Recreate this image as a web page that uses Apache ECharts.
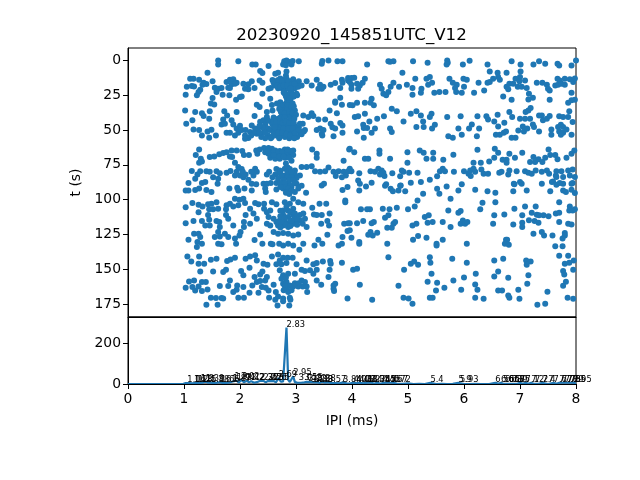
<!DOCTYPE html>
<html>
<head>
<meta charset="utf-8">
<script src="https://cdn.jsdelivr.net/npm/echarts@6/dist/echarts.min.js"></script>
<style>html,body{margin:0;padding:0;background:#fff}#chart{width:640px;height:480px}</style>
</head>
<body>
<div id="chart"></div>
<script>
const rasterLeftTop = [[1.61,0],[1.61,3],[1.97,.7],[2.22,3],[2.28,3],[2.51,4],[2.79,.7],[2.83,0],[2.77,3],[2.86,1],[2.82,3.5],[2.94,.5],[2.92,3],[3.05,.7],[3.47,.5],[3.46,2.4],[3.58,0],[3.74,.7],[3.83,.7],
[1.42,8.9],[2.36,7.7],[2.40,9],[2.63,9.6],[2.68,8.9],[2.83,7.9],[2.82,10.8],
[1.03,24.7],[1.05,19],[1.14,18.4],[1.18,18.7],[1.11,13.2],[1.17,13.2],[1.27,13.9],[1.35,16],[1.40,17],[1.51,15],[1.33,17.5],[1.29,21],[1.26,22.7],[1.23,25],
[1.55,19.6],[1.61,20.4],[1.67,19.9],[1.58,22.7],[1.69,24.7],[1.81,25],[1.76,15.6],[1.82,13.9],[1.88,13.6],[1.94,16],[1.85,17.2],[1.91,16.8],[1.79,19.6],[1.82,19.9],
[2.06,16.8],[2.15,17.2],[2.21,15],[2.35,14.4],[2.40,16],[2.09,20.4],[2.15,20.8],[2.26,19.9],[2.03,25.9],[2.0,26.3],[1.93,28.3],[2.40,24],[2.51,20.4],[2.55,19.9],[2.54,27.5],[2.6,16],
[2.58,14],[2.65,15],[2.72,13],[2.78,14],[2.83,13],[2.9,15],[2.95,13.5],[3.0,16],[2.62,18],[2.7,17],[2.76,16.5],[2.82,17],[2.88,18],[2.94,18],[2.68,20],[2.75,20],[2.8,21],[2.86,20],[2.92,21],[2.98,20],[2.8,24],[2.86,25],[2.92,23],[2.84,28],[2.9,28],[2.96,26],[3.02,25],[3.05,15],
[3.19,15],[3.28,18],[3.37,13.9],[3.43,17.5],[3.49,19],[3.46,20.4],[3.40,20.4],[3.62,17.5],[3.70,16.3],[3.82,13.9],[3.83,16],[3.79,19.9],[3.93,12.7],[3.93,14.4],[3.79,26.8],[3.70,29.5],[3.82,31.8],[3.04,19],[3.1,18],[3.01,24],[2.95,26],
[1.51,27],[1.48,31],[1.54,31.6],[1.02,36],[1.2,37],[1.32,38],[1.35,40],[1.46,36.6],[1.45,42],[1.04,45.5],[1.15,43],[1.17,49.6],[1.27,50],[1.32,54],[1.45,55.6],[1.42,51],[1.49,49.8],[1.57,53.9],[1.67,46],[1.72,36.6],[1.77,39.5],[1.70,42.4],[1.73,45.5],[1.76,52],[1.82,52],[1.85,43],[1.94,37],[1.88,46],[1.94,49],[1.97,52],[1.91,54],[2.0,47],[2.03,50],[2.09,54],[2.15,55.8],[2.09,56.3],[2.26,40],[2.30,31.8],[2.35,33.5],[2.21,46.7],[2.27,49],[2.18,51.5],[2.3,52.7],[2.36,44],[2.42,43],[2.48,40.7],[2.48,37],[2.57,32],
[2.58,36],[2.66,31],[2.72,30],[2.76,33],[2.82,31],[2.88,30],[2.94,31],[2.7,35],[2.78,36],[2.85,35],[2.92,36],[2.98,36],[2.75,39],[2.82,40],[2.88,40],[2.95,40],[2.6,41],[2.68,42],[2.78,43],[2.85,44],[2.93,44],[2.58,46],[2.66,47],[2.74,47],[2.82,47],[2.9,48],[2.97,47],[3.05,48],[2.45,46],[2.5,49],[2.56,50],[2.62,51],[2.7,50],[2.78,52],[2.85,51],[2.93,51],[3.0,50],[3.07,52],[3.14,51],[2.42,52],[2.5,54],[2.57,55],[2.65,54],[2.72,54],[2.8,55],[2.88,56],[2.95,54],[3.02,55],[3.1,53],[2.32,50],[2.38,55],[2.45,56],[2.52,50],
[3.13,39.5],[3.22,40.7],[3.28,38],[3.31,40],[3.12,45.5],[3.07,45.5],[3.16,50],[3.10,51.5],[3.40,42.4],[3.37,50],[3.43,49],[3.46,52.7],[3.49,50],[3.52,42.4],[3.47,54],[3.67,54.4],[3.60,36],[3.70,30.4],[3.73,38],[3.62,45.5],[3.65,48],[3.79,45],[3.83,46.7],[3.70,49],[3.83,52],[3.96,32]];

const rasterLeftMid = [[1.27,64],[1.21,68],[1.30,70.6],[1.27,73.5],[1.32,72.6],[1.46,69.4],[1.54,69],[1.63,67.5],[1.7,66.6],[1.76,66],[1.82,69],[1.85,64.7],[1.94,64.7],[1.86,69.4],[2.04,65],[2.07,68],[2.16,68],[1.91,73.5],[2.29,64.7],[2.35,64],[2.31,67],[2.43,63],[2.51,63],[2.57,63.5],[2.63,64.7],[2.71,65],[2.80,64],[2.95,64.7],[2.45,66],[2.51,67],[2.57,66],[2.65,68],[2.74,67],[2.82,68],[2.89,68],[2.95,68],[2.54,70],[2.63,70.6],[2.71,70.6],[2.80,70],[2.92,72],[3.29,64],[3.37,67],[3.37,70],[3.85,72],[3.95,64],
[2.82,74],[2.85,77],[1.14,79.5],[1.29,79.7],[1.24,82],[1.2,85],[1.08,88],[1.40,79.7],[1.46,80],[1.58,79.7],[1.64,81],[1.52,84],[1.61,85],[1.76,80.7],[1.83,79.5],[1.97,76.6],[2.03,78],[1.94,80],[1.91,82.6],[2.0,82.6],[2.06,84],[2.15,85.7],[2.27,77.8],[2.30,80],[2.24,82.6],[2.48,82],[2.52,80],[2.65,78],[2.71,79],[2.80,77.8],[2.89,78],[2.98,79],[2.63,82],[2.71,81],[2.80,82.6],[2.89,81],[2.98,82],[3.07,82.6],[3.10,76.6],[3.19,76.6],[3.28,76],[3.01,84.5],[3.34,79.7],[3.43,80],[3.52,79.7],[3.58,77],[3.67,80],[3.76,79.7],[3.85,80],[3.93,79.7],[3.71,83],[3.89,82.6],[3.82,84]];

const rasterLeftLow = [[1.32,88],[1.38,87.4],[1.6,88.6],[1.08,93.4],[1.03,93.4],[1.2,93],[1.27,92],[1.40,93],[1.49,94.6],[1.81,92],[1.95,91.5],[1.97,93.4],[2.08,92],[2.21,93.4],[2.21,88.6],[2.29,89],[2.42,88.6],[2.48,88.6],[2.45,92],[2.46,94.6],[2.65,88],[2.74,89],[2.65,92.7],[2.77,92],[2.86,88.6],[2.92,91],[3.01,88.6],[3.10,90],[3.04,92],[2.98,94.6],[2.89,94.6],[2.83,93.4],[3.18,95],[3.46,89.8],[3.50,88.6],[3.83,93],[3.92,91],[2.95,99.4],
[1.03,105.4],[1.15,102.5],[1.26,103.7],[1.33,104.9],[1.26,109],[1.43,103.4],[1.49,103],[1.58,101.8],[1.45,107],[1.52,107],[1.61,106.6],[1.43,111],[1.45,114.5],[1.76,104],[1.82,103],[1.91,99.4],[1.99,100],[2.06,99.4],[2.09,102.5],[1.97,104],[1.88,104.9],[1.75,107],[1.75,111],[1.79,113.7],[1.88,118.5],[2.10,111],[2.07,116],[2.07,119.7],[2.27,102.5],[2.33,103.4],[2.43,103],[2.18,106.6],[2.24,110],[2.30,113.7],[2.18,117.3],[2.43,106.6],[2.48,109],[2.54,107.8],[2.57,101.8],[2.65,103.4],[2.51,112.5],[2.60,113.7],[2.48,117.3],[2.54,118.5],
[2.80,101.8],[2.89,103],[2.83,105],[2.77,107.8],[2.86,108],[2.95,106.6],[3.04,101.8],[3.13,103],[2.77,111],[2.86,112.5],[2.95,111],[3.07,111],[3.13,110],[2.71,115],[2.80,116],[2.89,116],[2.98,116],[3.07,115],[3.16,113.7],[2.68,118.5],[2.77,118.5],[2.86,119.7],[2.95,117.3],[3.12,117.3],[3.19,119.7],[2.65,116],
[3.29,105.8],[3.42,103],[3.54,103],[3.32,110.6],[3.37,111],[3.46,111],[3.60,110],[3.45,117.3],[3.56,115.4],[3.59,118.5],[3.56,125.2],[3.88,100.6],[3.88,101.8],[3.86,117.3],[3.93,116.9],[3.92,122.6],
[1.03,116.9],[1.17,115.4],[1.32,115.4],[1.38,118.5],[1.46,118.5],[1.58,115.4],[1.63,116],[1.64,119.7],[1.61,123.3],[1.55,126.9],[1.64,126.4],[1.73,124.5],[1.79,126.9],[1.18,124.5],[1.26,124.5],[1.29,126.9],[1.08,128.8],[1.24,130.5],[1.32,131.7],[1.23,134],[1.61,131.7],[1.67,132],[1.91,128],[1.93,131.7],[2.01,123.3],[1.99,125.7],[2.26,129],[2.36,125],[2.40,131.7],[2.55,131.7],[2.60,123.3],[2.58,132],
[2.68,124.5],[2.77,124],[2.86,124.5],[2.95,125.7],[3.04,125],[2.70,131.7],[2.77,133],[2.86,131.7],[2.95,133],[3.13,131.7],[3.06,136],[3.33,132.9],[3.40,128.8],[3.47,131.7],[3.76,132.9],[3.83,126.9],[3.82,131.7],
[1.06,140.8],[1.13,144.4],[1.27,140.8],[1.26,146],[1.36,146],[1.48,143.2],[1.58,142.5],[1.29,151.6],[1.52,151.6],[1.70,152],[1.75,150.4],[1.77,144],[1.83,143],[1.91,141.8],[2.10,142.5],[2.18,140.8],[2.27,140],[2.30,143.7],[2.17,148.9],[2.02,151.3],[2.06,154.4],[2.26,155.6],[2.36,153.7],[2.40,151.6],[2.42,146],[2.49,146.8],[2.57,140.8],
[2.68,139.4],[2.65,146.5],[2.71,143.7],[2.77,141.8],[2.85,141.8],[2.94,141.8],[2.74,146.5],[2.83,145.6],[3.01,146.5],[3.19,143.7],[3.31,146.5],[3.37,145.6],[3.48,144.4],[3.61,144],[3.62,146],[3.60,150.4],[3.58,155.6],[3.82,145.4],[2.71,150.8],[2.77,154.4],[2.86,153.2],[2.98,153.2],[3.10,150.4],[3.16,151.3],[3.25,150.8],[3.37,150.4],[3.31,153.2],[3.37,158],
[1.09,158.8],[1.18,158],[1.03,163.3],[1.15,162.8],[1.26,162.4],[1.32,159.2],[1.39,159.2],[1.2,165.2],[1.32,165.7],[1.42,164.5],[1.64,162],[1.82,158],[1.79,162],[1.95,161.6],[1.94,164.7],[1.88,166.4],[2.06,162.8],[2.17,166.9],[2.22,161.6],[2.30,159.2],[2.36,158.5],[2.45,158],[2.48,155.6],[2.39,162.8],[2.46,163.3],[2.51,165.2],[2.33,166.9],[2.60,161.2],[2.64,166.4],
[2.74,156.8],[2.77,160.4],[2.83,159.2],[2.89,161.6],[2.95,162.4],[3.04,162.4],[3.12,162.4],[3.19,162.4],[3.10,158],[3.16,159.2],[2.83,164],[2.86,166.4],[3.20,166.4],[3.45,161.2],[3.67,161.6],[3.67,164],[3.68,165.7],[3.70,160.4],
[1.48,170.5],[1.57,170.7],[1.67,170.7],[1.70,171],[1.97,170.5],[2.07,170.5],[2.52,170.5],[2.63,172],[2.68,169.5],[2.77,171],[2.89,170.5],[2.90,172],[2.77,173],[3.92,171],[1.40,175.5],[1.60,175.5],[2.67,176],[2.88,176]];

// the dense knots around 2.8 ms, where single dots can't be told apart
const rasterDense = [[2.6,15],[2.68,14],[2.75,15],[2.86,15],[2.92,17],[2.97,17],[2.66,18],[2.72,19],[2.78,18],[2.84,18],[2.9,20],[2.78,23],[2.88,24],[2.94,25],[2.82,26],[2.88,27],
[2.72,33],[2.78,32],[2.85,32],[2.92,33],[2.96,33],[2.73,37],[2.8,38],[2.88,37],[2.94,38],[3.0,39],[2.72,41],[2.8,41],[2.9,42],[2.97,42],[2.7,44],[2.76,45],[2.82,44],[2.88,45],[2.96,45],[2.62,44],[2.55,44],[2.5,43],[2.45,48],[2.62,48],[2.78,49],[2.86,49],[2.94,49],[2.4,48],[2.35,47],[2.25,52],[2.2,54],[2.35,52],[2.45,52],[2.6,53],[2.68,52],[2.75,52],[2.83,53],[2.9,54],[2.98,52],[3.05,50],[2.1,50],[2.55,56],[2.7,56],[2.97,56],
[2.5,65],[2.6,66],[2.68,66],[2.76,66],[2.85,66],[2.9,65],[2.55,68],[2.6,68],[2.7,69],[2.78,69],[2.88,70],[2.85,64],
[2.72,80],[2.85,80],[2.92,80],[2.75,83],[2.85,84],[2.92,84],[2.68,85],[2.78,86],[2.88,86],[2.95,86],[2.72,88],[2.8,88],[2.9,90],[2.98,88],[2.8,91],[2.72,91],[2.86,92],[2.92,93],[2.82,95],[2.88,96],[2.2,80],[2.1,82],[2.05,80],[2.58,84],[2.55,88],
[2.72,108],[2.9,109],[2.98,110],[2.72,112],[2.8,113],[2.98,113],[2.75,116],[2.92,115],[3.02,114],[3.02,118],[2.82,118],[2.9,119],[2.72,120],
[2.82,156],[2.8,162],[2.92,165],[2.98,160],[3.05,160],[2.78,165]];

const rasterRightTop = [[4.27,3],[4.65,.7],[4.68,1],[4.74,.7],[5.09,.7],[5.35,1.7],[5.70,0],[5.71,1.7],[5.69,3],[5.98,3],[6.10,.2],[6.42,3],[6.85,.7],[7.01,3],[7.24,3],[7.34,.7],[7.45,2.4],[7.67,2.4],[7.70,3.6],[7.92,3.6],[8.0,0],[4.90,8.9],[6.46,7.9],[6.60,8.9],[6.76,8.9],[7.01,7.9],[7.0,12],
[3.99,12.7],[4.04,12.5],[3.96,15.6],[3.99,17.5],[3.99,20.4],[4.09,16.8],[4.14,18],[4.11,20.4],[4.23,13.2],[4.19,16],[4.50,17.5],[4.53,20.4],[4.56,24],[4.61,25],[4.65,22.7],[4.69,19],[4.74,16],[4.84,19],[4.98,17.5],[5.08,19.9],[5.08,24.7],[5.13,13.2],[5.24,20.4],[5.23,23.2],[5.33,13.2],[5.39,12],[5.36,17.5],[5.43,16],[5.47,23.2],[5.56,22.7],[5.67,22.7],[5.74,13.2],[5.80,16],[5.87,17.5],[5.84,19.9],[5.86,22.7],[5.96,23.2],[6.0,19],[5.99,13.2],[6.05,13.9],[6.18,23.2],[6.26,16],[6.36,21.6],[6.42,16],[6.46,15.6],[6.52,13.2],[6.64,13.9],[6.61,12],
[6.76,19],[6.81,16.8],[6.79,20.8],[6.88,16.8],[6.92,13.2],[6.96,19],[6.99,15],[7.03,19],[7.09,14.4],[7.12,19.9],[7.16,24],[7.23,26.8],[7.15,28],[6.70,25.9],[6.85,28.3],[7.30,16],[7.40,16],[7.48,17.5],[7.53,21.6],[7.50,20.4],[7.63,18],[7.67,13.2],[7.71,14.4],[7.68,17.5],[7.74,16.8],[7.80,13.2],[7.89,13.6],[7.95,15.6],[7.80,17.5],[7.92,23.2],[7.98,13],[7.53,28.3],[7.98,28.3],[7.92,28.7],[7.86,30.4],
[4.01,32.3],[4.09,30.4],[4.23,30.4],[4.35,27.5],[4.33,30.4],[4.39,32.3],[4.71,34.7],[4.80,36.6],[5.05,38.3],[5.15,36.6],[5.23,39.5],[5.27,43.8],[4.92,43.8],[5.15,47.9],[5.28,47.9],[5.42,38.3],[5.39,40.7],[5.48,46.2],[5.43,49],[5.70,40.7],[5.94,40.2],[5.72,54.4],[5.80,55.6],[5.90,49],[5.96,53.4],[6.14,46],[6.09,49],[6.27,49],[6.23,54.4],[6.24,40.2],
[4.05,40.7],[4.11,40.2],[4.23,38.3],[4.31,43.8],[4.45,41.9],[4.57,40.2],[4.2,46.2],[4.21,48.6],[4.27,48.6],[4.41,49],[4.35,52],[4.09,51],[4.21,55.6],[4.68,49],[4.71,51.5],
[6.40,40.2],[6.43,42.4],[6.60,39],[6.54,43.8],[6.61,47.4],[6.72,44.8],[6.81,37],[6.86,40.7],[6.57,53.4],[6.64,53.4],[6.71,52],[6.75,51],[6.97,50.3],[7.05,47.4],[7.07,51],[7.13,49],[6.85,55.6],[6.92,55.6],
[7.0,41.9],[7.09,41.9],[7.18,41.9],[7.10,37],[7.15,36],[7.19,34.2],[7.23,46],[7.25,47.9],[7.34,39.5],[7.39,39.5],[7.34,51],[7.41,43],[7.48,41.9],[7.53,40],[7.56,49.6],[7.56,53.4],[7.70,40.2],[7.77,40.7],[7.86,40.7],[7.88,36.6],[7.68,47.9],[7.73,46.2],[7.77,47.9],[7.70,51],[7.77,52],[7.73,53.4],[7.83,49.6],[7.94,44.3],[7.92,53.4]];

const rasterRightMid = [[3.96,63.5],[4.04,65.9],[4.49,64.7],[4.49,67],[4.23,70.6],[4.29,70.6],[4.68,70.6],[4.99,65.9],[4.99,73.5],[5.21,64.7],[5.28,66.3],[5.45,66.3],[5.33,70.6],[5.45,70.6],[5.63,71.4],[5.81,67.8],[6.24,64.2],[6.55,63.5],[6.61,66.3],[6.54,69.9],[6.45,72.6],[6.69,71.4],[6.76,71.4],[6.81,67],[6.76,73.5],[6.91,69.9],[7.04,66.3],[7.24,69.4],[7.18,73],[7.27,73],[7.33,71],[7.40,73],[7.45,70],[7.51,64],[7.54,68],[7.63,68],[7.67,71],[7.83,70],[7.92,67],[7.97,64.7],
[3.96,77.8],[3.99,79.7],[4.13,81],[4.33,79.7],[4.41,80],[4.47,77.8],[4.53,79],[4.56,80.7],[4.50,82],[4.58,83],[4.72,81],[4.86,83.3],[4.89,79],[4.92,80],[5.02,80.7],[5.17,80.7],[5.39,85.7],[5.52,83.3],[5.57,79.7],[5.62,77.8],[5.66,79.7],[5.82,80],[6.0,79.7],[6.08,81.4],[6.11,79],[6.17,77.8],[6.20,80],[6.12,83],[6.30,73.5],[6.17,73.5],[6.31,78.3],[6.35,81.4],[6.43,81.4],[6.63,80.7],[6.67,80],[6.81,79],[6.79,82],[6.94,79.7],[7.09,79.7],[7.15,80.7],[7.21,81.4],[7.28,79],[7.39,80],[7.48,79],[7.52,81.4],[7.65,79.7],[7.64,82.6],[7.74,79.7],[7.86,79],[7.94,78.3],[7.59,86.9],[7.65,83.8],[7.77,83.8],[7.89,82.6],[7.98,83.8],
[4.11,86.2],[4.14,88.6],[4.35,87.9],[4.59,90],[4.86,90],[5.05,87.9],[5.23,87.4],[6.89,88.6],[7.0,87.4],[7.03,88.6],[7.39,88.6],[7.57,87.4],[7.65,89.3],[7.77,88.6],[7.92,88.6]];

const rasterRightLow = [[4.13,93.4],[4.25,90.5],[4.61,89],[4.69,92.2],[4.73,93.9],[4.83,93.4],[4.87,89.8],[4.95,94],[5.27,95.8],[5.52,92.2],[5.56,95.8],[5.69,90.5],[5.90,93.4],[5.96,89],[5.76,99.4],[5.17,100.6],[5.12,104.9],[5.0,107],[4.80,105.8],[4.67,107],[4.55,106.6],[4.32,107],[4.27,107],[4.16,107],[5.72,107.8],[5.90,109.4],[5.94,108.2],[6.20,92.9],[6.42,94],[6.56,95],[6.56,101.8],[6.33,102.2],[6.29,107],[6.54,111.3],[6.72,110.6],[6.52,117.3],[6.88,94],[6.90,89],[7.12,93.4],[7.54,94],[7.71,88],[7.77,93.4],[7.82,94.6],[7.92,92.9],[7.94,88],[7.98,95.3],
[7.70,101.8],[7.89,104.9],[7.88,107.8],[7.94,107.8],[7.98,107],[7.09,104.9],[7.28,104.9],[6.90,106.6],[7.21,109.4],[7.04,111.3],[7.30,110.9],[7.34,111.3],[7.42,111.3],[7.51,112],[7.64,110],[7.70,109.4],
[6.88,117.8],[7.04,116.6],[7.04,119.7],[7.16,114.9],[7.26,115.4],[7.33,116.6],[7.70,116],[7.86,117.3],[7.92,117.8],[7.24,124.5],[7.39,123.3],[7.43,125.7],[7.58,125.7],[7.80,124],[7.80,125.7],[7.76,128],[7.76,133.4],[7.63,133.4],
[3.96,116.9],[4.09,116.9],[4.20,115.4],[4.35,116.9],[4.39,116],[3.96,122],[3.99,127.4],[4.29,125.2],[4.33,123.3],[4.37,125.7],[4.45,123.8],[4.13,130.5],[4.13,131.7],[4.63,131.7],[4.63,120.2],[4.59,113],[4.65,111.3],[4.71,120.2],[4.74,117.3],[4.77,116],[5.08,118.5],[5.15,117.3],[5.30,112.5],[5.37,111.3],[5.35,116.6],[5.44,116],[5.62,116],[5.76,119.7],[5.94,117.3],[5.98,115],[6.02,117.3],[6.06,116],[5.09,128.8],[5.18,126.2],[5.33,127.4],[5.51,131.7],[5.51,132.9],[5.62,128.8],[6.05,131.7],
[4.65,141.3],[4.93,150.4],[5.05,146],[5.11,144.4],[5.18,146.8],[5.39,141.3],[5.40,145.3],[5.79,142.5],[6.05,145.3],[6.54,143.7],[6.70,142.5],[7.11,143.7],[7.19,144.4],[7.12,146.8],[6.75,128.8],[6.77,128.8],[6.73,131.7],[6.80,132.4],[7.70,140.3],[7.86,140.3],[7.96,143.7],[7.88,145.3],[7.80,146],
[4.02,150.4],[4.09,149.7],[5.42,153.2],[6.21,153.2],[6.61,151.6],[6.54,155.2],[6.79,156.1],[7.15,154.4],[7.77,151.3],[7.79,153.7],[7.95,150.4],
[4.14,161.2],[4.83,161.9],[5.35,159],[5.52,159.7],[5.81,158],[6.0,156],[5.65,163.3],[5.50,165.2],[5.95,164.7],[6.20,160.9],[6.24,164.7],[6.61,165.2],[6.68,165.2],[7.13,160.4],[6.97,164.7],[7.49,166.2],[7.82,159],[7.77,161.9],
[4.36,172],[4.92,170.5],[5.01,171],[5.08,174.8],[5.39,170.5],[5.44,170.5],[6.20,170.5],[6.35,171.2],[6.79,168.8],[6.81,170.5],[6.99,171.2],[7.31,175.5],[7.45,174.8],[7.85,170.5],[7.95,171.2]];

// histogram of ipi below the raster
const histX = [0,.5,.98,1.0,1.03,1.06,1.09,1.12,1.15,1.18,1.22,1.25,1.28,1.3,1.34,1.39,1.43,1.48,1.53,1.57,1.61,1.66,1.7,1.75,1.8,1.87,1.9,1.94,1.98,2.02,2.07,2.12,2.16,2.2,2.25,2.3,2.35,2.38,2.42,2.46,2.5,2.55,2.6,2.64,2.69,2.73,2.77,2.8,2.83,2.86,2.89,2.92,2.95,2.98,3.02,3.05,3.09,3.15,3.19,3.22,3.28,3.33,3.38,3.42,3.46,3.52,3.57,3.62,3.7,3.78,3.84,3.9,3.96,4.03,4.08,4.13,4.2,4.27,4.35,4.4,4.45,4.5,4.55,4.6,4.67,4.72,4.8,4.9,5.0,5.1,5.2,5.3,5.4,5.5,5.6,5.7,5.8,5.9,5.93,6.0,6.1,6.2,6.3,6.45,6.56,6.62,6.66,6.7,6.73,6.77,6.8,6.83,6.85,6.88,6.9,6.95,7.0,7.05,7.1,7.15,7.2,7.24,7.27,7.33,7.4,7.5,7.6,7.65,7.7,7.73,7.75,7.78,7.8,7.83,7.85,7.88,7.9,7.93,7.95,8];
const histY = [0,0,0,3,4,9,5,4,3,8,6,9,5,11,7,11,6,7,4,5,8,8,4,5,6,12,19,16,7,20,9,16,8,14,6,9,15,7,15,8,15,14,15,8,29,11,13,16,276,20,10,18,38,9,7,14,6,8,10,7,9,8,9,5,11,6,9,5,4,3,8,3,2,7,3,7,3,7,6,1,7,1,5,7,6,7,2,1,3,0,1,0,6,0,1,0,1,6,6,0,0,1,0,0,6,1,6,1,6,1,6,1,6,1,6,1,6,1,6,1,6,1,6,1,6,0,6,1,6,1,6,1,6,1,6,1,6,1,7,1];

// peak labels, text is the ipi of the peak
const peakX = [1.06,1.18,1.2,1.25,1.3,1.39,1.48,1.61,1.66,1.87,1.9,1.94,2.02,2.12,2.2,2.35,2.42,2.5,2.55,2.6,2.69,2.83,2.95,3.05,3.15,3.22,3.28,3.33,3.38,3.57,3.84,4.03,4.08,4.13,4.2,4.27,4.35,4.45,4.55,4.6,4.67,4.72,5.4,5.9,5.93,6.56,6.66,6.73,6.8,6.85,6.9,7.0,7.1,7.2,7.27,7.4,7.6,7.7,7.75,7.8,7.85,7.9,7.95];
const peakY = [8,6,5,8,10,10,6,7,7,12,19,16,20,16,14,15,15,15,14,15,29,276,38,14,14,10,8,8,9,6,8,7,5,7,5,7,6,7,5,7,6,7,6,6,6,6,6,6,6,6,6,6,6,6,6,6,6,6,6,6,6,6,7];

const tTicks = [0,25,50,75,100,125,150,175];
const countTicks = [0,200];
const titleText = '20230920_145851UTC_V12';

const chart = echarts.init(document.getElementById('chart'));
const blue = '#1f77b4';
const font = 'DejaVu Sans';
const rasterPoints = [].concat(rasterLeftTop, rasterLeftMid, rasterLeftLow, rasterDense, rasterRightTop, rasterRightMid, rasterRightLow);
const histLine = histX.map(function (x, i) { return [x, histY[i]]; });
const peakPoints = peakX.map(function (x, i) { return [x, peakY[i]]; });

const axisBits = {
  axisLine: { show: true, onZero: false, lineStyle: { color: '#000', width: 1 } },
  axisTick: { show: true, length: 5, lineStyle: { color: '#000', width: 1 } },
  splitLine: { show: false }
};

chart.setOption({
  animation: false,
  backgroundColor: '#fff',
  title: {
    text: titleText, left: 346.5, top: 22, textAlign: 'center',
    textStyle: { fontFamily: font, fontSize: 16.67, fontWeight: 'normal', color: '#000' }
  },
  grid: [
    { left: 128, top: 48, width: 448, height: 269, show: true, borderColor: '#000', borderWidth: 1, backgroundColor: 'transparent' },
    { left: 128, top: 317, width: 448, height: 67, show: true, borderColor: '#000', borderWidth: 1, backgroundColor: 'transparent' }
  ],
  xAxis: [
    Object.assign({}, axisBits, { gridIndex: 0, type: 'value', min: 0, max: 8, interval: 1, axisTick: { show: false }, axisLabel: { show: false } }),
    Object.assign({}, axisBits, {
      gridIndex: 1, type: 'value', min: 0, max: 8, interval: 1, z: 5,
      name: 'IPI (ms)', nameLocation: 'middle', nameGap: 30,
      nameTextStyle: { fontFamily: font, fontSize: 13.9, color: '#000' },
      axisLabel: { fontFamily: font, fontSize: 13.9, color: '#000', margin: 8 }
    })
  ],
  yAxis: [
    Object.assign({}, axisBits, {
      gridIndex: 0, type: 'value', inverse: true, min: -8.9, max: 184.3,
      name: 't (s)', nameLocation: 'middle', nameGap: 37, nameRotate: 90,
      nameTextStyle: { fontFamily: font, fontSize: 13.9, color: '#000' },
      axisTick: { show: true, length: 5, customValues: tTicks, lineStyle: { color: '#000', width: 1 } },
      axisLabel: { fontFamily: font, fontSize: 13.9, color: '#000', margin: 7, customValues: tTicks }
    }),
    Object.assign({}, axisBits, {
      gridIndex: 1, type: 'value', min: 0, max: 327,
      axisTick: { show: true, length: 5, customValues: countTicks, lineStyle: { color: '#000', width: 1 } },
      axisLabel: { fontFamily: font, fontSize: 13.9, color: '#000', margin: 7, customValues: countTicks }
    })
  ],
  series: [
    {
      type: 'scatter', xAxisIndex: 0, yAxisIndex: 0, data: rasterPoints,
      symbol: 'circle', symbolSize: 6, itemStyle: { color: blue, opacity: 1 }
    },
    {
      type: 'line', xAxisIndex: 1, yAxisIndex: 1, data: histLine,
      showSymbol: false, lineStyle: { color: blue, width: 2.2 }, z: 2
    },
    {
      type: 'scatter', xAxisIndex: 1, yAxisIndex: 1, data: peakPoints, z: 3,
      symbolSize: 0, itemStyle: { opacity: 0 }, clip: false,
      label: {
        show: true, position: 'insideBottomLeft', distance: 0, offset: [0, 1],
        fontFamily: font, fontSize: 8.3, color: '#000', opacity: 1,
        formatter: function (p) { return String(p.value[0]); }
      }
    }
  ]
});
</script>
</body>
</html>
